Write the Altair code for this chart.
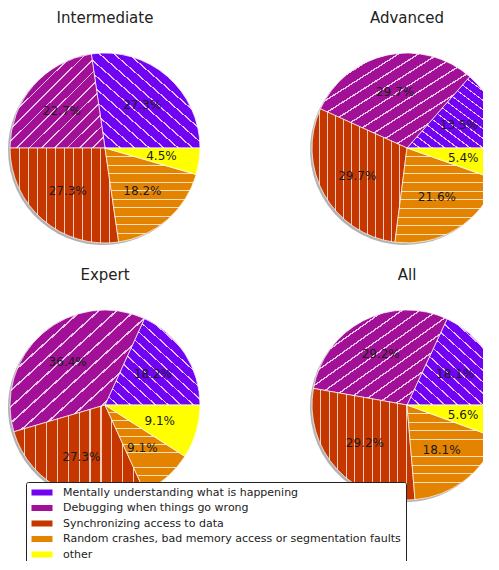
import math
import altair as alt
import pandas as pd

categories = [
    "Mentally understanding what is happening",
    "Debugging when things go wrong",
    "Synchronizing access to data",
    "Random crashes, bad memory access or segmentation faults",
    "other",
]
groups = ["Intermediate", "Advanced", "Expert", "All"]
intermediate = [27.3, 22.7, 27.3, 18.2, 4.5]
advanced = [13.5, 29.7, 29.7, 21.6, 5.4]
expert = [18.2, 36.4, 27.3, 9.1, 9.1]
all_levels = [18.1, 29.2, 29.2, 18.1, 5.6]
colors = ["#7202f2", "#a11096", "#c63700", "#e48300", "#ffff00"]

series = dict(zip(groups, [intermediate, advanced, expert, all_levels]))
rows = []
for g in groups:
    for i, (c, v) in enumerate(zip(categories, series[g])):
        rows.append({"group": g, "category": c, "order": i, "value": v})
df = pd.DataFrame(rows)

R = 95
CX, CY = 97, 97
W = 194
FONT = "DejaVu Sans"
theta_scale = alt.Scale(domain=[0, 1], range=[math.pi / 2 + 2 * math.pi, math.pi / 2])


def stripes(n, x1, y1, x2, y2, w=0.009):
    clear = "rgba(255,255,255,0)"
    line = "rgba(255,255,255,0.75)"
    stops = [{"offset": 0, "color": clear}]
    for k in range(1, n):
        c = k / n
        stops += [
            {"offset": c - w / 2, "color": clear},
            {"offset": c - w / 2, "color": line},
            {"offset": c + w / 2, "color": line},
            {"offset": c + w / 2, "color": clear},
        ]
    stops.append({"offset": 1, "color": clear})
    return {"gradient": "linear", "x1": x1, "y1": y1, "x2": x2, "y2": y2, "stops": stops}


hatches = {
    0: stripes(15, 0, 1, 1, 0),   # '\\'
    1: stripes(15, 0, 0, 1, 1),   # '/'
    2: stripes(12, 0, 0, 1, 0),   # '|'
    3: stripes(11, 0, 0, 0, 1),   # '-'
}

legend = alt.Legend(
    title=None,
    orient="none",
    legendX=18,
    legendY=431,
    direction="vertical",
    fillColor="white",
    strokeColor="#222",
    cornerRadius=2,
    padding=5,
    labelFont=FONT,
    labelFontSize=11,
    labelColor="#222",
    labelOffset=21,
    rowPadding=3.5,
    symbolType="M-1,-0.6H3.2V0.6H-1Z",
    symbolSize=100,
    symbolStrokeWidth=0,
    labelLimit=400,
)


def panel(name):
    base = (
        alt.Chart(df)
        .transform_filter(alt.datum.group == name)
        .transform_joinaggregate(total="sum(value)")
        .transform_window(cum="sum(value)", sort=[alt.SortField("order")], frame=[None, 0])
        .transform_calculate(
            t0="(datum.cum - datum.value) / datum.total",
            t1="datum.cum / datum.total",
            tm="(datum.cum - datum.value / 2) / datum.total",
            label="format(datum.value, '.1f') + '%'",
        )
    )
    pos = dict(x=alt.value(CX), y=alt.value(CY))
    shadow = base.mark_arc(outerRadius=R, color="#555", opacity=0.45).encode(
        theta=alt.Theta("t0:Q", scale=theta_scale),
        theta2="t1:Q",
        x=alt.value(CX - 2),
        y=alt.value(CY + 2),
    )
    arcs = base.mark_arc(outerRadius=R, stroke="white", strokeWidth=0.7).encode(
        theta=alt.Theta("t0:Q", scale=theta_scale),
        theta2="t1:Q",
        color=alt.Color(
            "category:N",
            scale=alt.Scale(domain=categories, range=colors),
            sort=categories,
            legend=legend,
        ),
        **pos,
    )
    layers = [shadow, arcs]
    for i, grad in hatches.items():
        layers.append(
            base.transform_filter(alt.datum.order == i)
            .mark_arc(outerRadius=R, fill=grad, strokeWidth=0)
            .encode(
                theta=alt.Theta("t0:Q", scale=theta_scale),
                theta2="t1:Q",
                **pos,
            )
        )
    text = base.mark_text(
        radius=0.6 * R, font=FONT, fontSize=12, color="#1a1a1a"
    ).encode(
        theta=alt.Theta("tm:Q", scale=theta_scale),
        text="label:N",
        **pos,
    )
    layers.append(text)
    return alt.layer(*layers).properties(
        width=W,
        height=W,
        title=alt.TitleParams(
            name,
            font=FONT,
            fontSize=15,
            fontWeight="normal",
            color="#222",
            anchor="middle",
            offset=27,
            dy=2,
        ),
    )


row1 = alt.hconcat(panel("Intermediate"), panel("Advanced"), spacing=108)
row2 = alt.hconcat(panel("Expert"), panel("All"), spacing=108)
chart = (
    alt.vconcat(row1, row2, spacing=23)
    .properties(padding={"left": 0, "top": 3, "right": -21, "bottom": -5})
    .configure_view(stroke=None)
)

chart.save("out.html", embed_options={"renderer": "svg", "actions": False})
